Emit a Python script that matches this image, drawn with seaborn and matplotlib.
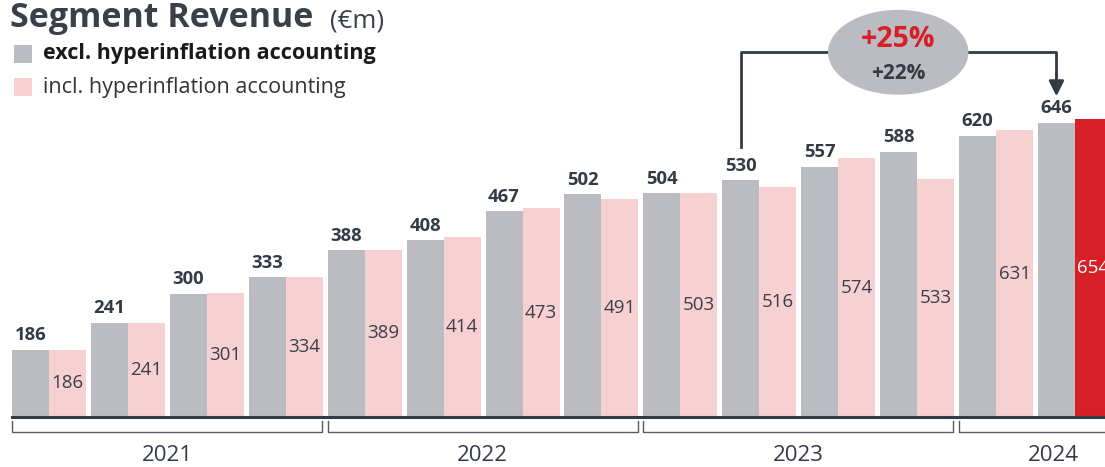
import matplotlib
matplotlib.use("Agg")
import matplotlib.pyplot as plt
from matplotlib.patches import Ellipse
import pandas as pd
import seaborn as sns

quarters = ["Q1 21", "Q2 21", "Q3 21", "Q4 21", "Q1 22", "Q2 22", "Q3 22", "Q4 22",
            "Q1 23", "Q2 23", "Q3 23", "Q4 23", "Q1 24", "Q2 24"]
excl_values = [186, 241, 300, 333, 388, 408, 467, 502, 504, 530, 557, 588, 620, 646]
incl_values = [186, 241, 301, 334, 389, 414, 473, 491, 503, 516, 574, 533, 631, 654]
series_names = ["excl. hyperinflation accounting", "incl. hyperinflation accounting"]
years = ["2021", "2022", "2023", "2024"]
year_spans = [(0, 3), (4, 7), (8, 11), (12, 13)]
growth_main = "+25%"
growth_sub = "+22%"

GREY = "#bbbcc1"
PINK = "#f7d0d2"
RED = "#d71f27"
DARK = "#343a46"

plt.rcParams['font.family'] = ['Open Sans', 'DejaVu Sans']

df = pd.DataFrame({
    "quarter": quarters * 2,
    "value": excl_values + incl_values,
    "series": [series_names[0]] * len(quarters) + [series_names[1]] * len(quarters),
})

fig = plt.figure(figsize=(11.05, 4.67), dpi=100)
ax = fig.add_axes([0, 50 / 467, 1, 417 / 467])
sns.barplot(data=df, x="quarter", y="value", hue="series", hue_order=series_names,
            palette=[GREY, PINK], width=0.937, saturation=1, legend=False,
            linewidth=0, ax=ax)
# last incl. bar is highlighted red
ax.containers[1][len(quarters) - 1].set_facecolor(RED)

ax.set_xlim(-0.621, 13.38)
ax.set_ylim(50, 895)
ax.set_xticks([])
ax.set_yticks([])
ax.set_xlabel("")
ax.set_ylabel("")
for s in ax.spines.values():
    s.set_visible(False)

# value labels
for i in range(len(quarters)):
    ax.text(i - 0.235, excl_values[i] + 11, str(excl_values[i]), ha="center", va="bottom",
            fontsize=13.3, fontweight="bold", color=DARK)
    last = i == len(quarters) - 1
    ax.text(i + 0.235, (50 + incl_values[i]) / 2, str(incl_values[i]), ha="center", va="center",
            fontsize=13.5, color="white" if last else "#3a3f4a", clip_on=True)

# baseline
ax.plot([-0.47, 13.5], [50, 50], color=DARK, lw=2.2, clip_on=False, zorder=5)

# year brackets
for yr, (a, b) in zip(years, year_spans):
    x0, x1 = a - 0.469, b + 0.46
    if yr == "2024":
        x1 = 13.6
    ax.plot([x0, x0, x1, x1], [42, 20, 20, 42], color="#555a63", lw=1.0, clip_on=False)
    ax.text((a - 0.469 + b + 0.46) / 2 if yr != "2024" else 12.72, -29, yr,
            ha="center", va="center", fontsize=16, color=DARK)

# growth annotation
xs, xe = 9 - 0.235, 13 - 0.235
ytop = 789
ax.plot([xs, xs, xe, xe], [598, ytop, ytop, 740], color=DARK, lw=2, clip_on=False, zorder=4)
ax.annotate("", xy=(xe, 700), xytext=(xe, 745),
            arrowprops=dict(arrowstyle="-|>,head_width=0.45,head_length=0.9",
                            color=DARK, lw=2, shrinkA=0, shrinkB=0),
            annotation_clip=False, zorder=4)
ax.add_patch(Ellipse((10.76, ytop), 1.78, 172, facecolor=GREY, edgecolor="none",
                     clip_on=False, zorder=6))
ax.text(10.76, 814, growth_main, ha="center", va="center", fontsize=20.5, fontweight="bold",
        color=RED, zorder=7)
ax.text(10.76, 747, growth_sub, ha="center", va="center", fontsize=15, fontweight="bold",
        color=DARK, zorder=7)

# title and legend
fig.text(10 / 1105, 1 - 27 / 467, "Segment Revenue", ha="left", va="baseline",
         fontsize=24.5, fontweight="bold", color="#3a3f4a")
fig.text(330 / 1105, 1 - 27 / 467, "(€m)", ha="left", va="baseline", fontsize=18.5, color="#3a3f4a")
for k, (name, col) in enumerate(zip(series_names, [GREY, PINK])):
    yc = 54 + k * 33
    fig.patches.append(plt.Rectangle((14 / 1105, 1 - (yc + 9) / 467), 18 / 1105, 18 / 467,
                                     transform=fig.transFigure, facecolor=col, edgecolor="none"))
    fig.text(43 / 1105, 1 - yc / 467, name, ha="left", va="center", fontsize=15.5,
             fontweight="bold" if k == 0 else "normal", color="#1a1a1a" if k == 0 else "#333333")

fig.savefig("out.png", dpi=100)
